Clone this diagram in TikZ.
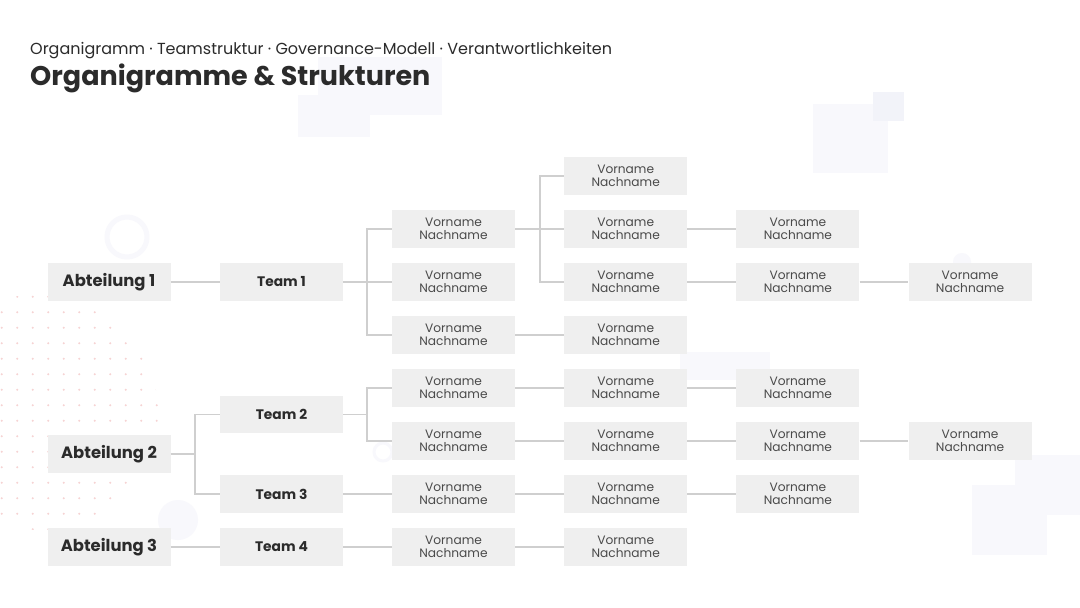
\documentclass[tikz,border=0pt]{standalone}
\usepackage{fontspec}
\setmainfont{Poppins}
\definecolor{boxgray}{HTML}{EFEFEF}
\definecolor{linegray}{HTML}{CFCFCF}
\definecolor{dark}{HTML}{2B2B2B}
\definecolor{txtgray}{HTML}{4A4A4A}
\definecolor{deco}{HTML}{F8F8FC}
\definecolor{decodk}{HTML}{F2F3F9}
\definecolor{dotpink}{HTML}{F6D3D3}
\tikzset{
  box/.style={fill=boxgray, minimum width=123pt, minimum height=37.5pt, inner sep=0pt},
  pers/.style={box, align=center, text=txtgray, font=\fontsize{12.2}{13}\selectfont},
  lead/.style={box, text=dark, font=\fontsize{13.8}{15}\selectfont\bfseries},
  head/.style={box, text=dark, font=\fontsize{16.4}{18}\selectfont\bfseries},
  link/.style={draw=linegray, line width=1.5pt},
}
\begin{document}
\begin{tikzpicture}[x=1pt, y=-1pt]
  \useasboundingbox (0,0) rectangle (1080,608);
  \fill[white] (0,0) rectangle (1080,608);
  % faint background decoration
  \fill[deco] (318,57) rectangle (442,115);
  \fill[deco] (298,95) rectangle (370,137);
  \fill[deco] (813,104) rectangle (888,173);
  \fill[decodk] (873,92) rectangle (904,121);
  \fill[deco] (680,352) rectangle (770,380);
  \fill[deco] (972,485) rectangle (1047,555);
  \fill[deco] (1015,455) rectangle (1080,515);
  \draw[deco, line width=5pt] (127,237) circle (20);
  \fill[deco] (178,520) circle (20);
  \draw[deco, line width=3pt] (383,452) circle (9);
  \fill[deco] (962,262) circle (9);
  \begin{scope}
    \clip (40,412) circle (118);
    \foreach \i in {0,...,11}
      \foreach \j in {0,...,16}
        \fill[dotpink] ({1.7+15.5*\i},{296.7+15.5*\j}) circle (1.1);
  \end{scope}
  % title
  \node[anchor=base west, inner sep=0pt, text=dark, font=\fontsize{16}{18}\selectfont]
    (sub) at (30,54) {Organigramm · Teamstruktur · Governance-Modell · Verantwortlichkeiten};
  \node[anchor=base west, inner sep=0pt, text=dark, font=\fontsize{27}{30}\selectfont\bfseries]
    (title) at (30,85) {Organigramme \& Strukturen};
  % departments and teams
  \node[head] (a1) at (109,282) {Abteilung 1};
  \node[head] (a2) at (109,454) {Abteilung 2};
  \node[head] (a3) at (109,547) {Abteilung 3};
  \node[lead] (t1) at (281.5,282) {Team 1};
  \node[lead] (t2) at (281.5,414.5) {Team 2};
  \node[lead] (t3) at (281.5,494) {Team 3};
  \node[lead] (t4) at (281.5,547) {Team 4};
  % people
  \foreach \c/\r/\y in {1/B/229,1/C/282,1/D/335,1/E/388,1/F/441,1/G/494,1/H/547,
      2/A/176,2/B/229,2/C/282,2/D/335,2/E/388,2/F/441,2/G/494,2/H/547,
      3/B/229,3/C/282,3/E/388,3/F/441,3/G/494,4/C/282,4/F/441}
    \node[pers] (p\c\r) at ({453.5+172.2*(\c-1)},\y) {Vorname\\Nachname};
  % bus points
  \coordinate (ba2) at (195,454);
  \coordinate (bt1) at (367,282);
  \coordinate (bt2) at (367,414.5);
  \coordinate (bp1) at (540,229);
  % links
  \draw[link] (a1) -- (t1);
  \draw[link] (a3) -- (t4);
  \draw[link] (a2.east) -- (ba2);
  \draw[link] (ba2) |- (t2.west);
  \draw[link] (ba2) |- (t3.west);
  \draw[link] (t1.east) -- (p1C.west);
  \draw[link] (bt1) |- (p1B.west);
  \draw[link] (bt1) |- (p1D.west);
  \draw[link] (t2.east) -- (bt2);
  \draw[link] (bt2) |- (p1E.west);
  \draw[link] (bt2) |- (p1F.west);
  \draw[link] (t3) -- (p1G);
  \draw[link] (t4) -- (p1H);
  \draw[link] (p1B) -- (p2B);
  \draw[link] (bp1) |- (p2A.west);
  \draw[link] (bp1) |- (p2C.west);
  \foreach \a/\b in {p2B/p3B, p2C/p3C, p3C/p4C, p1D/p2D, p1E/p2E, p2E/p3E,
      p1F/p2F, p2F/p3F, p3F/p4F, p1G/p2G, p2G/p3G, p1H/p2H}
    \draw[link] (\a) -- (\b);
\end{tikzpicture}
\end{document}
